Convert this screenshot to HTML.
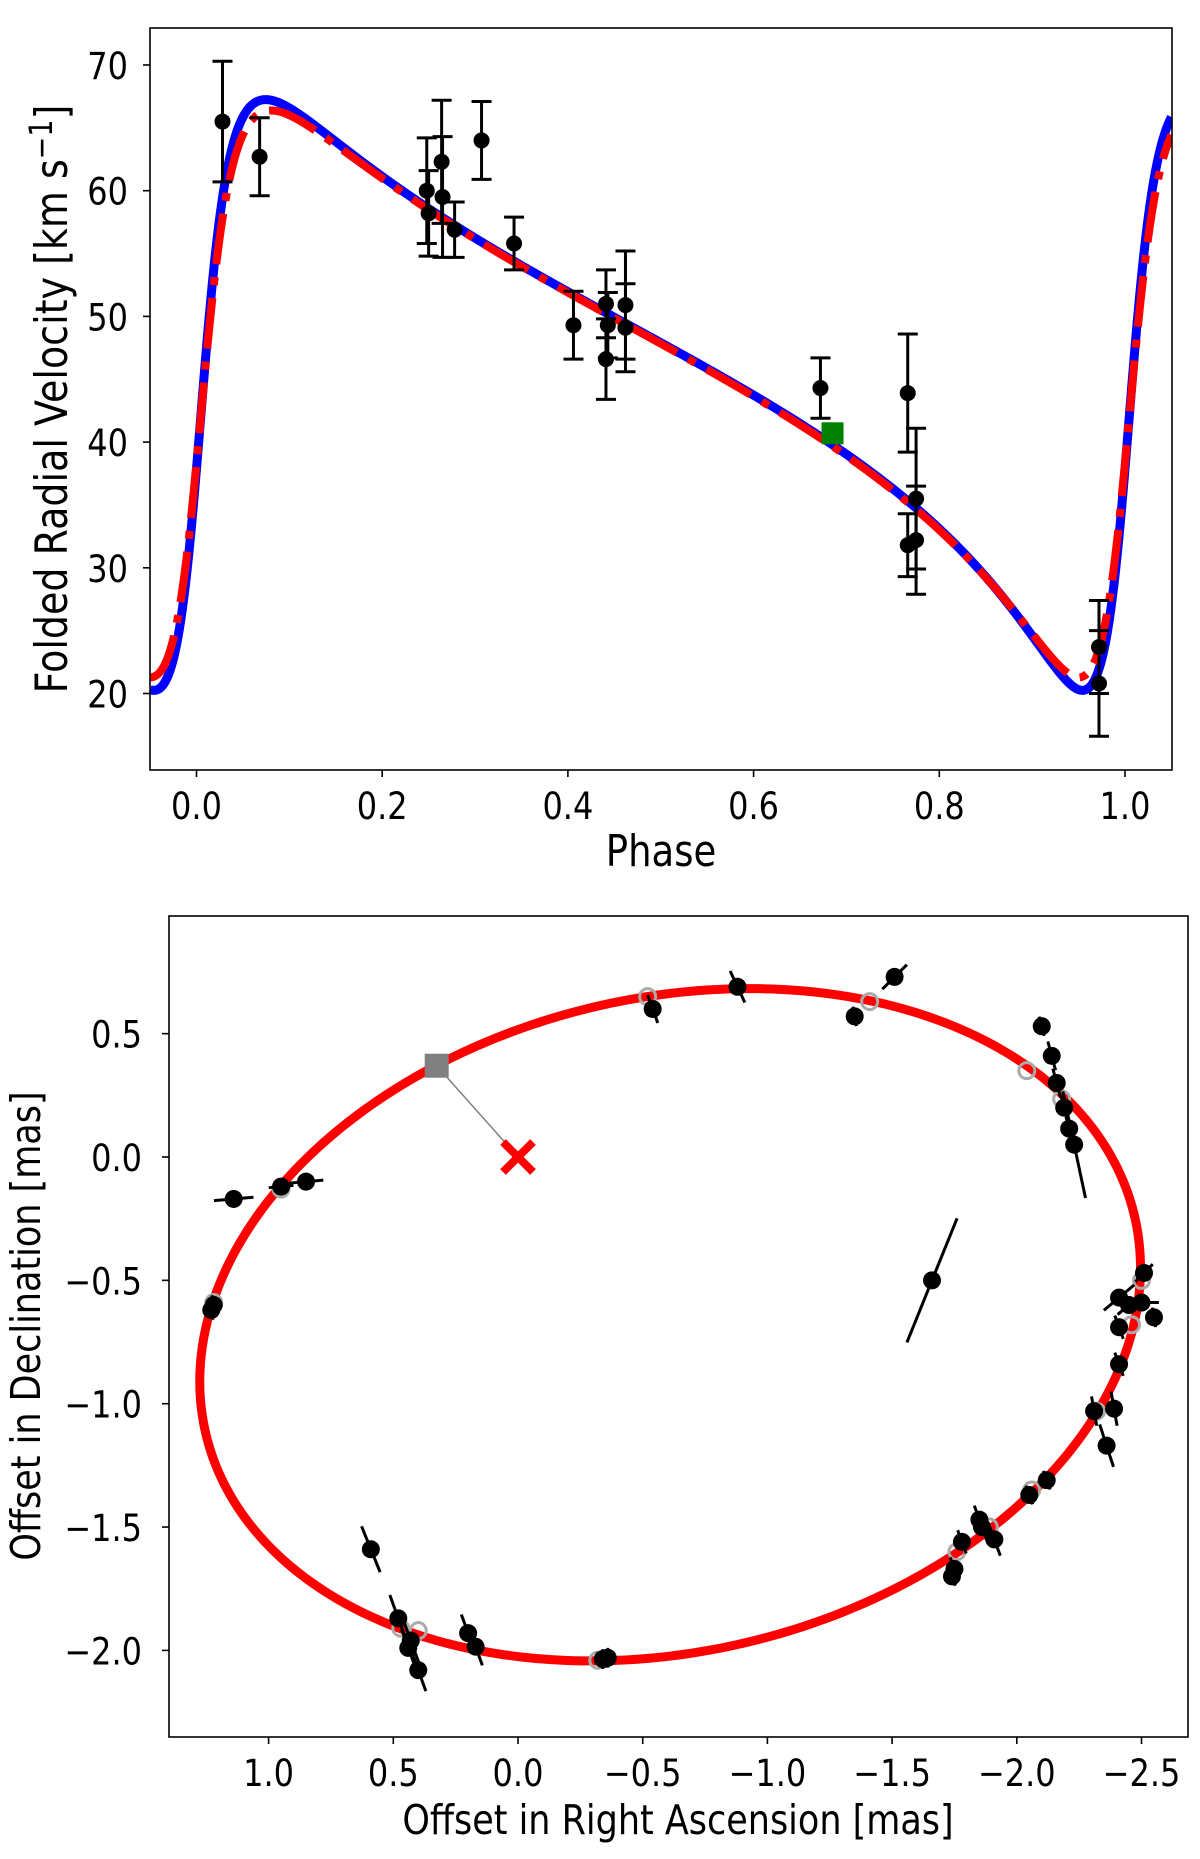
<!DOCTYPE html>
<html><head><meta charset="utf-8"><style>
html,body{margin:0;padding:0;background:#fff;}
svg text{font-family:"DejaVu Sans","Liberation Sans",sans-serif;fill:#000;}
</style></head><body>
<svg id="fig" width="1200" height="1854" viewBox="0 0 1200 1854" xmlns="http://www.w3.org/2000/svg">
<g id="top"></g>
<g id="bot"></g>
</svg>
<script>
// ---- RV panel data ----
const rvPhase = [0.028,0.068,0.248,0.250,0.264,0.265,0.278,0.307,0.342,0.406,0.441,0.443,0.441,0.462,0.462,0.672,0.766,0.766,0.775,0.775,0.972,0.972];
const rvValue = [65.5,62.7,60.0,58.2,62.3,59.5,56.9,64.0,55.8,49.3,51.0,49.3,46.6,50.9,49.1,44.3,43.9,31.8,35.5,32.2,23.7,20.8];
const rvError = [4.8,3.1,4.2,3.4,4.9,4.8,2.2,3.1,2.1,2.7,2.7,2.6,3.2,4.3,3.5,2.4,4.7,2.5,5.6,4.3,3.7,4.2];
const gaiaPoint = [0.685, 40.7];
// orbit model parameters [K, e, omega(deg), gamma, periastron phase]
const blueModel = [23.5, 0.65, 260, 46.4, 0.002];
const redModel = [22.55, 0.63, 260, 46.3, 0.002];
const rvXTicks = [0.0,0.2,0.4,0.6,0.8,1.0];
const rvXTickLabels = ["0.0","0.2","0.4","0.6","0.8","1.0"];
const rvYTicks = [20,30,40,50,60,70];
const rvYTickLabels = ["20","30","40","50","60","70"];

// ---- Astrometry panel data ----
const raObs = [1.14,0.95,0.85,1.23,1.22,-0.54,-0.88,-1.35,-1.51,-2.10,-2.14,-2.16,-2.19,-2.21,-2.23,-1.66,-2.51,-2.41,-2.45,-2.50,-2.55,-2.41,-2.41,-2.31,-2.39,-2.36,-2.12,-2.05,-1.85,-1.86,-1.91,-1.78,-1.75,-1.74,-0.36,-0.34,0.20,0.17,0.48,0.43,0.44,0.40,0.59];
const decObs = [-0.17,-0.12,-0.10,-0.62,-0.60,0.60,0.69,0.57,0.73,0.53,0.41,0.30,0.20,0.115,0.05,-0.50,-0.47,-0.57,-0.60,-0.59,-0.65,-0.69,-0.84,-1.03,-1.02,-1.17,-1.31,-1.37,-1.47,-1.50,-1.55,-1.56,-1.67,-1.70,-2.03,-2.035,-1.93,-1.985,-1.87,-1.96,-1.99,-2.08,-1.59];
const errLen = [0.08,0.05,0.07,0.04,0.04,0.06,0.07,0.04,0.07,0.04,0.06,0.06,0.05,0.05,0.22,0.27,0.05,0.08,0.06,0.07,0.04,0.05,0.05,0.06,0.07,0.09,0.04,0.04,0.06,0.06,0.07,0.05,0.05,0.04,0.04,0.04,0.08,0.08,0.10,0.10,0.08,0.09,0.10];
// screen angle of error bar (deg, counter-clockwise from screen-right)
const errAngle = [5,5,5,100,100,110,115,100,45,105,105,105,105,105,102,68,45,40,40,0,100,110,110,100,100,108,110,110,110,110,110,110,110,110,90,90,110,110,110,110,110,110,112];
const raModel = [-0.52,-1.41,-2.04,-2.18,1.22,0.95,-2.46,-2.50,-1.76,-1.89,-0.32,0.47,0.40,-2.06,-2.32];
const decModel = [0.65,0.63,0.35,0.235,-0.59,-0.13,-0.68,-0.50,-1.60,-1.50,-2.04,-1.91,-1.92,-1.35,-1.03];
// orbit ellipse: [centerRA, centerDec, A, C, D]
const orbitShape = [-0.61, -0.68, 1.886, -0.23, 1.343];
const primaryPos = [0.326, 0.37];
const starPos = [0, 0];
const astXTicks = [1.0,0.5,0.0,-0.5,-1.0,-1.5,-2.0,-2.5];
const astXTickLabels = ["1.0","0.5","0.0","\u22120.5","\u22121.0","\u22121.5","\u22122.0","\u22122.5"];
const astYTicks = [0.5,0.0,-0.5,-1.0,-1.5,-2.0];
const astYTickLabels = ["0.5","0.0","\u22120.5","\u22121.0","\u22121.5","\u22122.0"];

const NS = "http://www.w3.org/2000/svg";
const SY = 1.17;
function mk(parent, tag, attrs, txt){
  const e = document.createElementNS(NS, tag);
  for (const k in attrs) e.setAttribute(k, attrs[k]);
  if (txt !== undefined) e.textContent = txt;
  parent.appendChild(e); return e;
}
function txt(parent, x, y, size, anchor, s, rot){
  const tr = 'translate('+x+','+y+')' + (rot ? ' rotate(-90)' : '') + ' scale(1,'+SY+')';
  return mk(parent,'text',{x:0,y:0,'font-size':size,'text-anchor':anchor,transform:tr}, s);
}

// ===== top panel =====
const T = document.getElementById('top');
const L1=150,R1=1172,T1=28,B1=770;
const px1 = p => 196.5 + p*928.5;
const py1 = v => 65 + (70 - v)*12.57;

function kepV(m, ph){
  const [K,e,w,g,tp] = m;
  let M = 2*Math.PI*(ph - tp);
  let E = M;
  for (let i=0;i<60;i++) E = E - (E - e*Math.sin(E) - M)/(1 - e*Math.cos(E));
  const nu = 2*Math.atan2(Math.sqrt(1+e)*Math.sin(E/2), Math.sqrt(1-e)*Math.cos(E/2));
  const wr = w*Math.PI/180;
  return g + K*(Math.cos(nu+wr) + e*Math.cos(wr));
}
function curvePath(m){
  let d="";
  for (let i=0;i<=1100;i++){
    const ph = -0.05 + i*0.001;
    d += (i?"L":"M") + px1(ph).toFixed(2) + "," + py1(kepV(m,ph)).toFixed(2);
  }
  return d;
}
const clip = mk(T,'clipPath',{id:'c1'});
mk(clip,'rect',{x:L1,y:T1,width:R1-L1,height:B1-T1});
const cg = mk(T,'g',{'clip-path':'url(#c1)'});
let e;
e = mk(cg,'path',{d:curvePath(blueModel),fill:'none',stroke:'#0000ff','stroke-width':9});


e = mk(cg,'path',{d:curvePath(redModel),fill:'none',stroke:'#ff0000','stroke-width':8,'stroke-dasharray':'51 13 8 13'});


for (let i=0;i<rvPhase.length;i++){
  const g = mk(T,'g',{});
  
  
  const x = px1(rvPhase[i]), y1 = py1(rvValue[i]-rvError[i]), y2 = py1(rvValue[i]+rvError[i]);
  mk(g,'line',{x1:x,x2:x,y1:y1,y2:y2,stroke:'#000','stroke-width':3});
  mk(g,'line',{x1:x-10,x2:x+10,y1:y1,y2:y1,stroke:'#000','stroke-width':3});
  mk(g,'line',{x1:x-10,x2:x+10,y1:y2,y2:y2,stroke:'#000','stroke-width':3});
  mk(g,'circle',{cx:x,cy:py1(rvValue[i]),r:8,fill:'#000'});
}
e = mk(T,'rect',{x:px1(gaiaPoint[0])-11,y:py1(gaiaPoint[1])-11,width:22,height:22,fill:'#008000'});


mk(T,'rect',{x:L1,y:T1,width:R1-L1,height:B1-T1,fill:'none',stroke:'#000','stroke-width':1.6});
rvXTicks.forEach((t,i)=>{
  const x=px1(t);
  mk(T,'line',{x1:x,x2:x,y1:B1,y2:B1+7,stroke:'#000','stroke-width':1.6});
  e = txt(T, x, B1+49, 32, 'middle', rvXTickLabels[i]);
  
  
});
rvYTicks.forEach((t,i)=>{
  const y=py1(t);
  mk(T,'line',{x1:L1-7,x2:L1,y1:y,y2:y,stroke:'#000','stroke-width':1.6});
  e = txt(T, L1-22, y+14, 32, 'end', rvYTickLabels[i]);
  
  
});
e = txt(T, 661, 866, 37, 'middle', 'Phase');


e = txt(T, 67, 399, 38, 'middle', undefined, true);


e.appendChild(document.createTextNode('Folded Radial Velocity [km s'));
mk(e,'tspan',{dy:-13,'font-size':27},'\u22121');
mk(e,'tspan',{dy:13},']');

// ===== bottom panel =====
const Bp = document.getElementById('bot');
const L2=169,R2=1188,T2=916,B2=1737;
const px2 = a => 518 - a*249.4;
const py2 = d => 1157 - d*246.7;
const clip2 = mk(Bp,'clipPath',{id:'c2'});
mk(clip2,'rect',{x:L2,y:T2,width:R2-L2,height:B2-T2});
const cg2 = mk(Bp,'g',{'clip-path':'url(#c2)'});
let od="";
for (let i=0;i<=400;i++){
  const t=i/400*2*Math.PI;
  const a = orbitShape[0] + orbitShape[2]*Math.cos(t);
  const d = orbitShape[1] + orbitShape[3]*Math.cos(t) + orbitShape[4]*Math.sin(t);
  od += (i?"L":"M")+px2(a).toFixed(2)+","+py2(d).toFixed(2);
}
e = mk(cg2,'path',{d:od+'Z',fill:'none',stroke:'#ff0000','stroke-width':9});


for (let i=0;i<raModel.length;i++){
  e = mk(cg2,'circle',{cx:px2(raModel[i]),cy:py2(decModel[i]),r:8,fill:'none',stroke:'#aaaaaa','stroke-width':3});
  
  
}
for (let i=0;i<raObs.length;i++){
  const g = mk(cg2,'g',{});
  
  
  const th = errAngle[i]*Math.PI/180, Lp = errLen[i]*248;
  const cx = px2(raObs[i]), cy = py2(decObs[i]);
  mk(g,'line',{x1:cx+Lp*Math.cos(th),y1:cy-Lp*Math.sin(th),x2:cx-Lp*Math.cos(th),y2:cy+Lp*Math.sin(th),stroke:'#000','stroke-width':3});
  mk(g,'circle',{cx:cx,cy:cy,r:9,fill:'#000'});
}
mk(cg2,'line',{x1:px2(primaryPos[0]),y1:py2(primaryPos[1]),x2:px2(starPos[0]),y2:py2(starPos[1]),stroke:'#808080','stroke-width':1.5});
e = mk(cg2,'rect',{x:px2(primaryPos[0])-12,y:py2(primaryPos[1])-12,width:24,height:24,fill:'#808080'});


const sx=px2(starPos[0]), sy=py2(starPos[1]);
const xg = mk(cg2,'g',{});


mk(xg,'line',{x1:sx-15,y1:sy-15,x2:sx+15,y2:sy+15,stroke:'#ff0000','stroke-width':8});
mk(xg,'line',{x1:sx-15,y1:sy+15,x2:sx+15,y2:sy-15,stroke:'#ff0000','stroke-width':8});
mk(Bp,'rect',{x:L2,y:T2,width:R2-L2,height:B2-T2,fill:'none',stroke:'#000','stroke-width':1.6});
astXTicks.forEach((t,i)=>{
  const x=px2(t);
  mk(Bp,'line',{x1:x,x2:x,y1:B2,y2:B2+7,stroke:'#000','stroke-width':1.6});
  e = txt(Bp, x, B2+49, 32, 'middle', astXTickLabels[i]);
  
  
});
astYTicks.forEach((t,i)=>{
  const y=py2(t);
  mk(Bp,'line',{x1:L2-7,x2:L2,y1:y,y2:y,stroke:'#000','stroke-width':1.6});
  e = txt(Bp, L2-27, y+14, 32, 'end', astYTickLabels[i]);
  
  
});
e = txt(Bp, 678, 1834, 35, 'middle', 'Offset in Right Ascension [mas]');


e = txt(Bp, 40, 1326, 35, 'middle', 'Offset in Declination [mas]', true);


</script>
</body></html>
